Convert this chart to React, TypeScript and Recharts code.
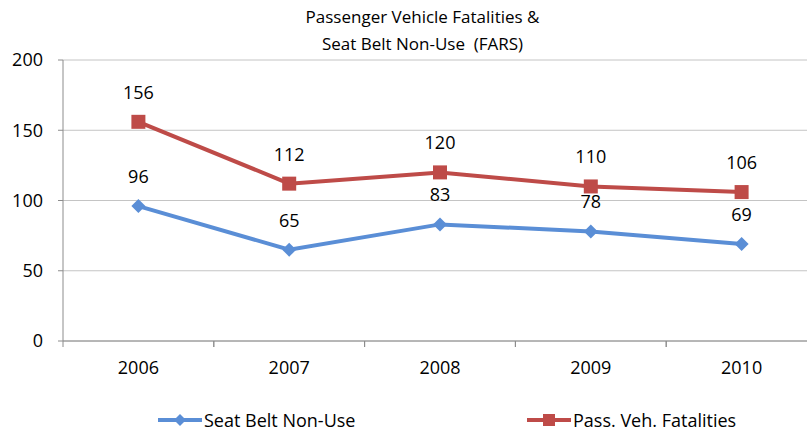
import { LineChart, Line, XAxis, YAxis, CartesianGrid, LabelList } from 'recharts';

// Values
const years = ['2006', '2007', '2008', '2009', '2010'];
const seatBeltNonUse = [96, 65, 83, 78, 69];
const passVehFatalities = [156, 112, 120, 110, 106];
const yTicks = [0, 50, 100, 150, 200];

const chartData = years.map((year, i) => ({
  year,
  seatBelt: seatBeltNonUse[i],
  fatalities: passVehFatalities[i],
}));

const BLUE = '#5A8ED6';
const RED = '#BE4B48';
const AXIS = '#8C8C8C';
const FONT = '"Open Sans", "Liberation Sans", sans-serif';
const FS = 18;

const Diamond = ({ cx, cy }: any) => {
  if (cx == null || cy == null) return null;
  const r = 7;
  return (
    <polygon
      points={`${cx},${cy - r} ${cx + r},${cy} ${cx},${cy + r} ${cx - r},${cy}`}
      fill={BLUE}
    />
  );
};

const Square = ({ cx, cy }: any) => {
  if (cx == null || cy == null) return null;
  return <rect x={cx - 7} y={cy - 7} width={14} height={14} fill={RED} />;
};

// category ticks sit between the bands, like Excel
const YearTick = ({ x, y, payload }: any) => {
  const half = payload.offset || 0;
  return (
    <g>
      <line x1={x - half} x2={x - half} y1={y - 6} y2={y} stroke={AXIS} strokeWidth={1} />
      <line x1={x + half} x2={x + half} y1={y - 6} y2={y} stroke={AXIS} strokeWidth={1} />
      <text x={x} y={y + 27} textAnchor="middle" fontSize={FS} fontFamily={FONT} fill="#000">
        {payload.value}
      </text>
    </g>
  );
};

const LegendRow = () => {
  const items = [
    { name: 'Seat Belt Non-Use', color: BLUE, square: false, left: 158 },
    { name: 'Pass. Veh. Fatalities', color: RED, square: true, left: 527 },
  ];
  return (
    <div style={{ position: 'absolute', left: 0, top: 408, width: 807, height: 26 }}>
      {items.map((it) => (
        <div
          key={it.name}
          style={{
            position: 'absolute',
            left: it.left,
            top: 0,
            display: 'flex',
            alignItems: 'center',
            fontFamily: FONT,
            fontSize: FS,
            color: '#000',
            whiteSpace: 'nowrap',
          }}
        >
          <svg width={44} height={16} style={{ marginRight: 2 }}>
            <line x1={0} x2={44} y1={8} y2={8} stroke={it.color} strokeWidth={4} />
            {it.square ? (
              <rect x={16} y={2} width={12} height={12} fill={it.color} />
            ) : (
              <polygon points="22,2 28,8 22,14 16,8" fill={it.color} />
            )}
          </svg>
          <span>{it.name}</span>
        </div>
      ))}
    </div>
  );
};

export default function App() {
  return (
    <div
      style={{
        position: 'absolute',
        left: 0,
        top: 0,
        width: 807,
        height: 432,
        overflow: 'hidden',
        background: '#fff',
      }}
    >
      <div
        style={{
          position: 'absolute',
          left: 0,
          width: 845,
          top: 3,
          textAlign: 'center',
          fontFamily: FONT,
          fontSize: 17,
          lineHeight: '27px',
          color: '#000',
        }}
      >
        <div>Passenger Vehicle Fatalities &amp;</div>
        <div>Seat Belt Non-Use&nbsp; (FARS)</div>
      </div>
      <LineChart
        width={830}
        height={432}
        data={chartData}
        margin={{ top: 60, right: 13, bottom: 0, left: 0 }}
        style={{ position: 'absolute', left: 0, top: 0 }}
      >
        <CartesianGrid horizontal vertical={false} stroke="#C4C4C4" strokeWidth={1} />
        <XAxis
          dataKey="year"
          scale="band"
          stroke={AXIS}
          tickLine={false}
          tickSize={6}
          tickMargin={0}
          tick={<YearTick />}
          interval={0}
          height={91}
        />
        <YAxis
          domain={[0, 200]}
          ticks={yTicks}
          width={63}
          stroke={AXIS}
          tickSize={5}
          tickMargin={15}
          tick={{ fill: '#000', fontSize: FS, fontFamily: FONT }}
          interval={0}
        />
        <Line
          dataKey="seatBelt"
          name="Seat Belt Non-Use"
          stroke={BLUE}
          strokeWidth={4}
          dot={<Diamond />}
          activeDot={false}
          isAnimationActive={false}
        >
          <LabelList
            dataKey="seatBelt"
            position="top"
            offset={23}
            fill="#000"
            fontSize={FS}
            fontFamily={FONT}
          />
        </Line>
        <Line
          dataKey="fatalities"
          name="Pass. Veh. Fatalities"
          stroke={RED}
          strokeWidth={4}
          dot={<Square />}
          activeDot={false}
          isAnimationActive={false}
        >
          <LabelList
            dataKey="fatalities"
            position="top"
            offset={23}
            fill="#000"
            fontSize={FS}
            fontFamily={FONT}
          />
        </Line>
      </LineChart>
      <LegendRow />
    </div>
  );
}
